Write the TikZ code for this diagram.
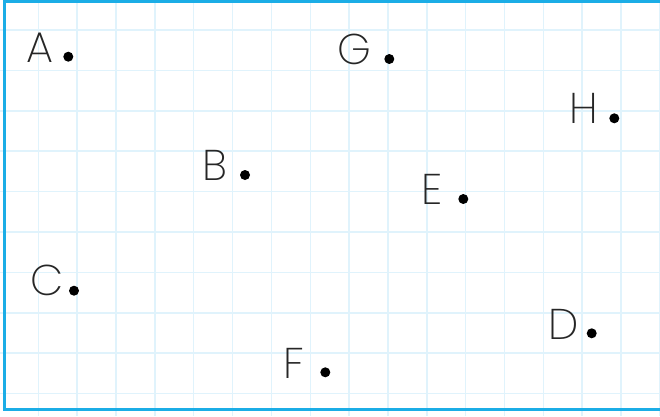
\documentclass[tikz,border=0pt]{standalone}
\usepackage{fontspec}
\setmainfont{Poppins ExtraLight}
\usepackage{xcolor}
\usetikzlibrary{positioning}

\definecolor{gridblue}{HTML}{E0F3FC}
\definecolor{frameblue}{HTML}{1BADE6}

\begin{document}
\begin{tikzpicture}[x=1pt, y=-1pt, pt/.style={circle,fill=black,inner sep=0pt,minimum size=10pt}, lbl/.style={inner sep=0pt,font=\fontsize{43}{43}\selectfont,text=black!85}]

\useasboundingbox (0,0) rectangle (660,416);
\clip (0,0) rectangle (660,416);

% Grid
\foreach \k in {0,...,16}
  \draw[gridblue,line width=1.5pt] ({38.3+38.85*\k},0) -- ({38.3+38.85*\k},416);
\foreach \k in {0,...,9}
  \draw[gridblue,line width=1.5pt] (0,{30+40.4*\k}) -- (660,{30+40.4*\k});

% Frame
\draw[frameblue,line width=3pt] (4.5,1) rectangle (664,409.8);

% Points
\node[pt] (A) at (68.3,56.7) {};
\node[pt] (G) at (389.3,59) {};
\node[pt] (H) at (614.3,118.3) {};
\node[pt] (B) at (245,175) {};
\node[pt] (E) at (463.3,199) {};
\node[pt] (C) at (74,290.7) {};
\node[pt] (D) at (591.7,333.3) {};
\node[pt] (F) at (325.3,372.3) {};

% Labels
\node[lbl] (labA) at (39.5,47.3) {A};
\node[lbl] (labG) at (354.2,49.2) {G};
\node[lbl] (labH) at (584.2,108.3) {H};
\node[lbl] (labB) at (214.5,165.7) {B};
\node[lbl] (labE) at (432,189.5) {E};
\node[lbl] (labC) at (46.7,280.3) {C};
\node[lbl] (labD) at (563.5,324.3) {D};
\node[lbl] (labF) at (294.3,363.8) {F};

\end{tikzpicture}
\end{document}
